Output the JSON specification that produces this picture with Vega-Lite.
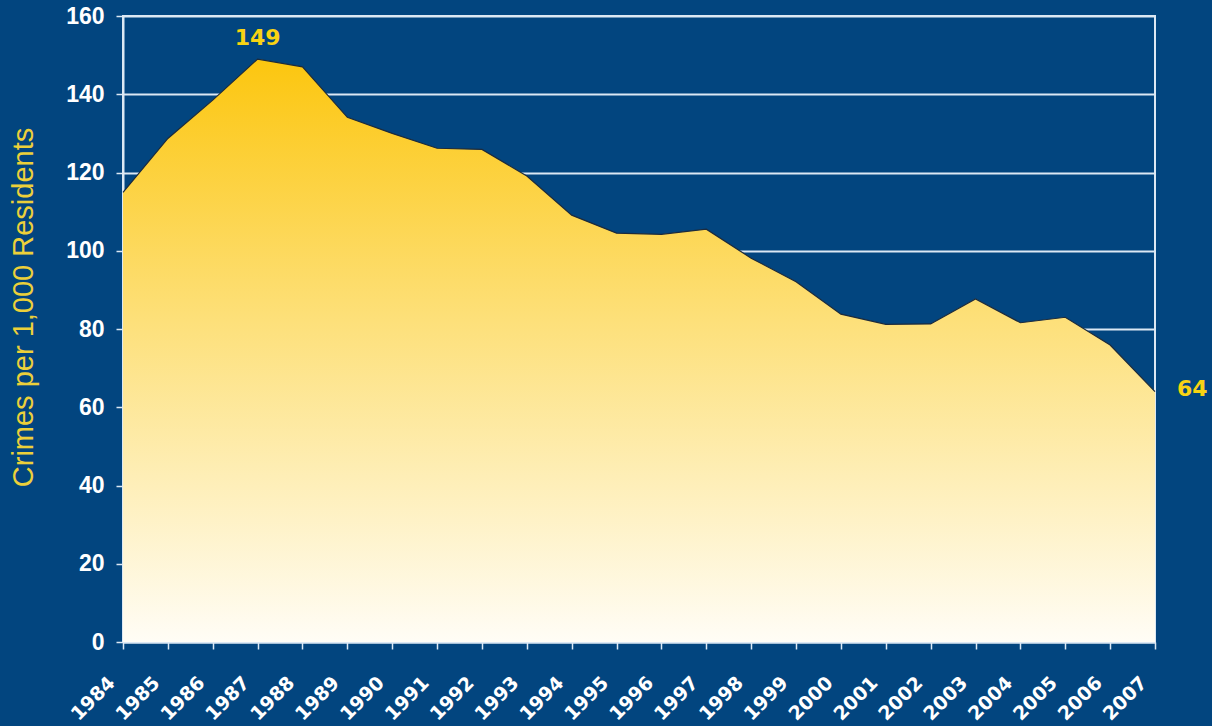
{
  "$schema": "https://vega.github.io/schema/vega-lite/v6.json",
  "width": 1032,
  "height": 626,
  "autosize": {"type": "none"},
  "padding": {"left": 123, "top": 16, "right": 57, "bottom": 84},
  "background": "#02457f",
  "config": {
    "view": {"stroke": "#dce8f4", "strokeWidth": 2},
    "axis": {"gridColor": "#dce8f4", "gridWidth": 2, "gridOpacity": 1}
  },
  "data": {
    "values": [
      {"year": "1984", "rate": 114.9},
      {"year": "1985", "rate": 128.7},
      {"year": "1986", "rate": 138.5},
      {"year": "1987", "rate": 149},
      {"year": "1988", "rate": 147.0},
      {"year": "1989", "rate": 134.1},
      {"year": "1990", "rate": 130.0},
      {"year": "1991", "rate": 126.2},
      {"year": "1992", "rate": 125.9},
      {"year": "1993", "rate": 119.1},
      {"year": "1994", "rate": 109.1},
      {"year": "1995", "rate": 104.5},
      {"year": "1996", "rate": 104.2},
      {"year": "1997", "rate": 105.5},
      {"year": "1998", "rate": 98.1},
      {"year": "1999", "rate": 92.1},
      {"year": "2000", "rate": 83.8},
      {"year": "2001", "rate": 81.2},
      {"year": "2002", "rate": 81.3},
      {"year": "2003", "rate": 87.7},
      {"year": "2004", "rate": 81.6},
      {"year": "2005", "rate": 83.0},
      {"year": "2006", "rate": 75.9},
      {"year": "2007", "rate": 64}
    ]
  },
  "encoding": {
    "x": {
      "field": "year", "type": "ordinal",
      "scale": {"type": "point", "padding": 0},
      "axis": {
        "title": null, "labelAngle": -45, "labelColor": "#ffffff",
        "labelFont": "DejaVu Sans", "labelFontSize": 19, "labelFontWeight": "bold",
        "labelOffset": -18, "labelPadding": 24,
        "domainColor": "#dce8f4", "domainWidth": 2, "tickColor": "#dce8f4",
        "tickSize": 7, "tickWidth": 1.5, "grid": false
      }
    },
    "y": {
      "field": "rate", "type": "quantitative",
      "scale": {"domain": [0, 160], "nice": false},
      "axis": {
        "values": [0, 20, 40, 60, 80, 100, 120, 140, 160],
        "title": "Crimes per 1,000 Residents", "titleColor": "#ecd03a",
        "titleFont": "Liberation Sans", "titleFontSize": 29, "titleFontWeight": "normal",
        "titlePadding": 27, "titleY": 291,
        "labelColor": "#ffffff", "labelFont": "Liberation Sans", "labelFontSize": 23,
        "labelFontWeight": "bold", "labelPadding": 12,
        "domainColor": "#dce8f4", "domainWidth": 2, "tickColor": "#dce8f4",
        "tickSize": 7, "tickWidth": 1.5, "grid": true
      }
    }
  },
  "layer": [
    {
      "mark": {
        "type": "area",
        "color": {
          "gradient": "linear", "x1": 0, "y1": 0, "x2": 0, "y2": 1,
          "stops": [
            {"offset": 0, "color": "#fcc60f"},
            {"offset": 0.45, "color": "#fde07a"},
            {"offset": 1, "color": "#fffdf6"}
          ]
        }
      }
    },
    {
      "mark": {"type": "line", "color": "#1d2b3c", "strokeWidth": 1.2}
    },
    {
      "transform": [{"filter": "datum.year == '1987'"}],
      "mark": {"type": "text", "dy": -21, "color": "#f8d313", "font": "DejaVu Sans",
               "fontSize": 22, "fontWeight": "bold", "baseline": "middle"},
      "encoding": {"text": {"field": "rate", "type": "quantitative"}}
    },
    {
      "transform": [{"filter": "datum.year == '2007'"}],
      "mark": {"type": "text", "dx": 22, "dy": -3, "align": "left", "color": "#f8d313",
               "font": "DejaVu Sans", "fontSize": 22, "fontWeight": "bold", "baseline": "middle"},
      "encoding": {"text": {"field": "rate", "type": "quantitative"}}
    }
  ]
}
